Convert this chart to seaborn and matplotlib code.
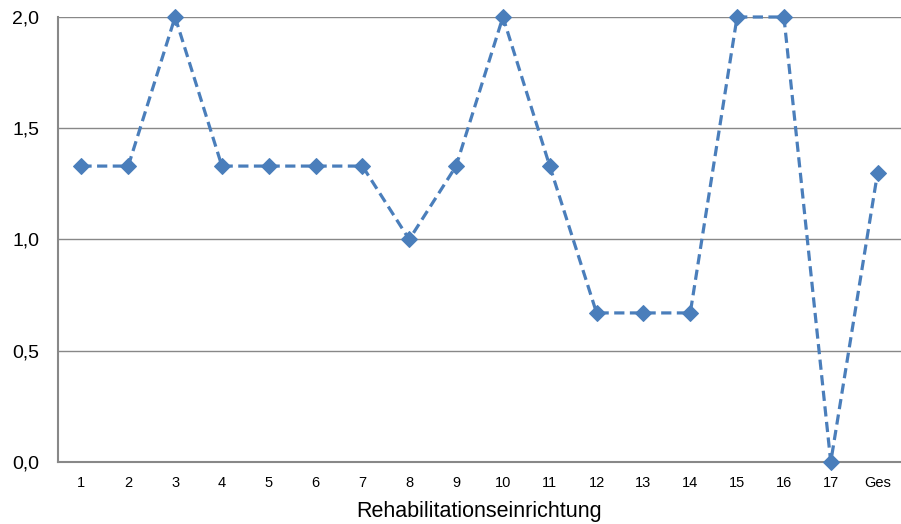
import matplotlib
matplotlib.use("Agg")
import matplotlib.pyplot as plt
import seaborn as sns
import pandas as pd
import numpy as np

categories = ["1", "2", "3", "4", "5", "6", "7", "8", "9", "10", "11", "12",
              "13", "14", "15", "16", "17", "Ges"]
values = [1.33, 1.33, 2.0, 1.33, 1.33, 1.33, 1.33, 1.0, 1.33, 2.0, 1.33,
          0.67, 0.67, 0.67, 2.0, 2.0, 0.0, 1.3]
y_ticks = [0.0, 0.5, 1.0, 1.5, 2.0]
y_tick_labels = ["0,0", "0,5", "1,0", "1,5", "2,0"]
x_label = "Rehabilitationseinrichtung"

sns.set_theme(style="white")
plt.rcParams['font.family'] = ['Liberation Sans', 'DejaVu Sans']

df = pd.DataFrame({"pos": np.arange(len(categories)), "value": values})

fig = plt.figure(figsize=(9.01, 5.24), dpi=100)
ax = fig.add_axes([58 / 901, 1 - 462 / 524, 843 / 901, (462 - 17) / 524])

color = "#4A7EBB"
sns.lineplot(data=df, x="pos", y="value", ax=ax, color=color, linewidth=2.3,
             linestyle=(0, (3.2, 1.7)), marker="D", markersize=8,
             markeredgecolor=color, markerfacecolor=color, clip_on=False, zorder=3)

ax.set_xlim(-0.5, -0.5 + 843 / 47.2)
ax.set_ylim(0, 2.0)
ax.set_yticks(y_ticks)
ax.set_yticklabels(y_tick_labels, fontsize=14, color="#000000")
ax.set_xticks(df["pos"])
ax.set_xticklabels(categories, fontsize=10.5, color="#000000")
ax.set_xticks(np.arange(len(categories)) + 0.5, minor=True)
ax.tick_params(axis="x", which="major", length=0, pad=10)
ax.tick_params(axis="x", which="minor", length=5, width=1, color="#888888", direction="out")
ax.tick_params(axis="y", which="major", length=5, width=1, color="#888888", direction="out", pad=8.5)
ax.yaxis.grid(True, color="#888888", linewidth=1)
ax.set_axisbelow(True)

for side in ["top", "right"]:
    ax.spines[side].set_visible(False)
for side in ["left", "bottom"]:
    ax.spines[side].set_color("#888888")
    ax.spines[side].set_linewidth(1.5)

ax.set_xlabel(x_label, fontsize=15.5, color="#000000", labelpad=8)
ax.set_ylabel("")

fig.savefig("out.png", dpi=100)
